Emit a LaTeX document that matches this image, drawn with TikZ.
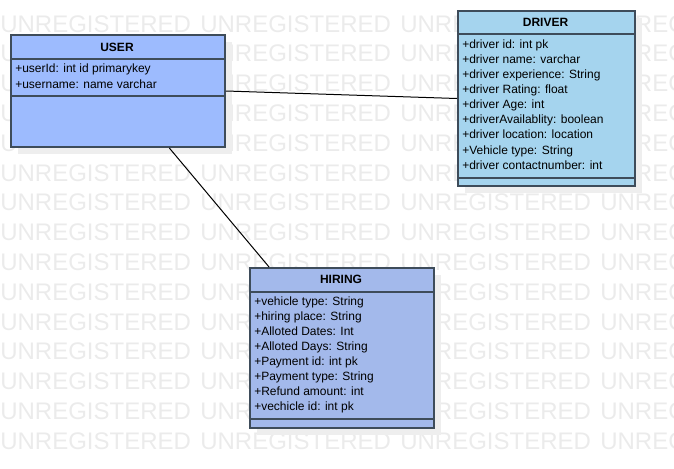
\documentclass[tikz,border=0pt]{standalone}
\usepackage{fontspec}
\setmainfont{Liberation Sans}
\usepackage{xcolor}
\usepackage{tikz}
\usetikzlibrary{positioning}

\definecolor{userblue}{HTML}{9DBBFE}
\definecolor{driverblue}{HTML}{A5D4EE}
\definecolor{hiringblue}{HTML}{A3B9EB}
\definecolor{umlline}{HTML}{3E4C5A}
\definecolor{watermark}{HTML}{EBEBEB}
\definecolor{shadowgrey}{HTML}{EEEEEE}

\def\px{0.75pt}

\tikzset{
	classbox/.style={draw=umlline, line width=1.5pt, inner sep=0pt, anchor=north west,
		preaction={fill=shadowgrey, transform canvas={shift={(5pt,-5pt)}}}},
	divider/.style={draw=umlline, line width=1.5pt},
	classname/.style={font=\bfseries\fontsize{9}{11}\selectfont, inner sep=0pt},
	attr/.style={font=\fontsize{9}{11}\selectfont, inner sep=0pt, anchor=west,
		text height=0.7em, text depth=0.2em},
	assoc/.style={draw=black, line width=0.75pt},
	wmark/.style={font=\fontsize{18}{18}\selectfont, text=watermark, inner sep=0pt, anchor=base west},
}

\begin{document}
\begin{tikzpicture}[x=\px, y=-\px]
	\useasboundingbox (0,0) rectangle (674,468);
	
	% background text
	\begin{scope}
		\clip (0,0) rectangle (674,468);
		\foreach \r in {0,...,14}{
			\foreach \c in {0,...,3}{
				\node[wmark] at (200*\c, 32+29.8*\r) {UNREGISTERED};
			}
		}
	\end{scope}
	
	% USER
	\node[classbox, fill=userblue, minimum width=214*\px, minimum height=112*\px] (user) at (10,34) {};
	\draw[divider] ([yshift=-25*\px]user.north west) -- ([yshift=-25*\px]user.north east);
	\draw[divider] ([yshift=-62*\px]user.north west) -- ([yshift=-62*\px]user.north east);
	\node[classname] (user-name) at (117,47) {USER};
	\foreach \t [count=\i from 0] in {+userId: int id primarykey, +username: name varchar}{
		\node[attr] (user-a\i) at (15, 69+16*\i) {\t};
	}
	
	% DRIVER
	\node[classbox, fill=driverblue, minimum width=177*\px, minimum height=175*\px] (driver) at (457,10) {};
	\draw[divider] ([yshift=-24*\px]driver.north west) -- ([yshift=-24*\px]driver.north east);
	\draw[divider] ([yshift=-168*\px]driver.north west) -- ([yshift=-168*\px]driver.north east);
	\node[classname] (driver-name) at (545.5,22) {DRIVER};
	\foreach \t [count=\i from 0] in {+driver id: int pk, +driver name: varchar,
		+driver experience: String, +driver Rating: float, +driver Age: int,
		+driverAvailablity: boolean, +driver location: location,
		+Vehicle type: String, +driver contactnumber: int}{
		\node[attr] (driver-a\i) at (462, 45+15.1*\i) {\t};
	}
	
	% HIRING
	\node[classbox, fill=hiringblue, minimum width=184*\px, minimum height=160*\px] (hiring) at (249,267) {};
	\draw[divider] ([yshift=-25*\px]hiring.north west) -- ([yshift=-25*\px]hiring.north east);
	\draw[divider] ([yshift=-152*\px]hiring.north west) -- ([yshift=-152*\px]hiring.north east);
	\node[classname] (hiring-name) at (341,279) {HIRING};
	\foreach \t [count=\i from 0] in {+vehicle type: String, +hiring place: String,
		+Alloted Dates: Int, +Alloted Days: String, +Payment id: int pk,
		+Payment type: String, +Refund amount: int, +vechicle id: int pk}{
		\node[attr] (hiring-a\i) at (254, 302+15*\i) {\t};
	}
	
	% associations
	\draw[assoc] (user.east) -- (driver.west);
	\draw[assoc] (user.-48) -- (hiring.132);
	
\end{tikzpicture}
\end{document}
